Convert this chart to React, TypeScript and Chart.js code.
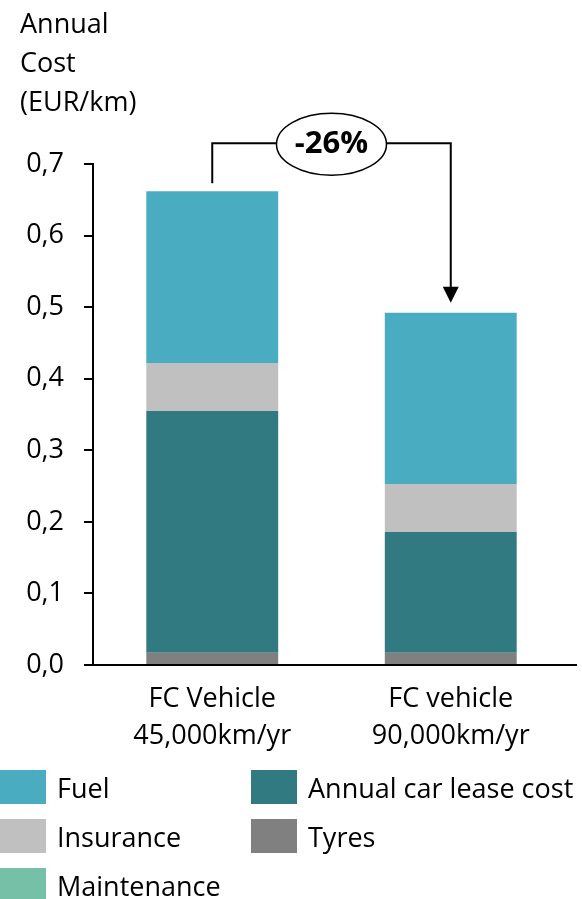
import React, { useEffect, useRef } from 'react';
import { Chart, registerables } from 'chart.js';

Chart.register(...registerables);

const categories = [
  ['FC Vehicle', '45,000km/yr'],
  ['FC vehicle', '90,000km/yr'],
];
const tyres = [0.017, 0.017];
const lease = [0.338, 0.169];
const maintenance = [0, 0];
const insurance = [0.067, 0.067];
const fuel = [0.24, 0.239];
const yMax = 0.7;
const yStep = 0.1;
const changeLabel = '-26%';
const axisTitle = ['Annual', 'Cost', '(EUR/km)'];

const COLORS = {
  fuel: '#4AACC1',
  lease: '#327A82',
  insurance: '#C0C0C0',
  tyres: '#808080',
  maintenance: '#76C0A8',
};

const legendItems = [
  { label: 'Fuel', color: COLORS.fuel },
  { label: 'Annual car lease cost', color: COLORS.lease },
  { label: 'Insurance', color: COLORS.insurance },
  { label: 'Tyres', color: COLORS.tyres },
  { label: 'Maintenance', color: COLORS.maintenance },
];

const FONT = "'Open Sans', sans-serif";

const extrasPlugin = {
  id: 'extras',
  afterDraw(chart: any) {
    const ctx = chart.ctx as CanvasRenderingContext2D;
    const xs = chart.scales.x;
    const ys = chart.scales.y;
    const area = chart.chartArea;
    ctx.save();
    // extend x axis line a little to the right
    ctx.strokeStyle = '#000';
    ctx.lineWidth = 2;
    ctx.beginPath();
    ctx.moveTo(area.right - 1, area.bottom);
    ctx.lineTo(577, area.bottom);
    ctx.stroke();

    // axis title
    ctx.fillStyle = '#000';
    ctx.font = `27px ${FONT}`;
    ctx.textAlign = 'left';
    ctx.textBaseline = 'alphabetic';
    axisTitle.forEach((t, i) => ctx.fillText(t, 20, 33 + i * 39));

    // annotation bracket
    const totals = [0, 1].map(
      (i) => tyres[i] + lease[i] + maintenance[i] + insurance[i] + fuel[i]
    );
    const x1 = xs.getPixelForValue(0);
    const x2 = xs.getPixelForValue(1);
    const yTop = ys.getPixelForValue(0.729);
    const y1 = ys.getPixelForValue(totals[0]) - 8;
    const y2 = ys.getPixelForValue(totals[1]) - 10;
    ctx.strokeStyle = '#000';
    ctx.lineWidth = 2;
    ctx.beginPath();
    ctx.moveTo(x1, y1);
    ctx.lineTo(x1, yTop);
    ctx.lineTo(x2, yTop);
    ctx.lineTo(x2, y2 - 14);
    ctx.stroke();
    ctx.fillStyle = '#000';
    ctx.beginPath();
    ctx.moveTo(x2 - 8, y2 - 16);
    ctx.lineTo(x2 + 8, y2 - 16);
    ctx.lineTo(x2, y2);
    ctx.closePath();
    ctx.fill();
    const cx = (x1 + x2) / 2;
    ctx.beginPath();
    ctx.ellipse(cx, yTop + 1, 55, 31, 0, 0, Math.PI * 2);
    ctx.fillStyle = '#fff';
    ctx.fill();
    ctx.lineWidth = 1.5;
    ctx.stroke();
    ctx.fillStyle = '#000';
    ctx.font = `bold 31px ${FONT}`;
    ctx.textAlign = 'center';
    ctx.textBaseline = 'middle';
    ctx.fillText(changeLabel, cx, yTop + 1);

    // legend
    ctx.font = `27px ${FONT}`;
    ctx.textAlign = 'left';
    ctx.textBaseline = 'alphabetic';
    legendItems.forEach((item, i) => {
      const col = i % 2;
      const row = Math.floor(i / 2);
      const sx = col === 0 ? 0 : 251;
      const sy = 770 + row * 49;
      ctx.fillStyle = item.color;
      ctx.fillRect(sx, sy, 46, 34);
      ctx.fillStyle = '#000';
      ctx.fillText(item.label, sx + 57, sy + 28);
    });
    ctx.restore();
  },
};

export default function App() {
  const ref = useRef<HTMLCanvasElement | null>(null);
  useEffect(() => {
    document.body.style.margin = '0';
    document.body.style.overflow = 'hidden';
    const canvas = ref.current;
    if (!canvas) return;
    const chart = new Chart(canvas, {
      type: 'bar',
      data: {
        labels: categories as any,
        datasets: [
          { label: 'Tyres', data: tyres, backgroundColor: COLORS.tyres },
          { label: 'Annual car lease cost', data: lease, backgroundColor: COLORS.lease },
          { label: 'Maintenance', data: maintenance, backgroundColor: COLORS.maintenance },
          { label: 'Insurance', data: insurance, backgroundColor: COLORS.insurance },
          { label: 'Fuel', data: fuel, backgroundColor: COLORS.fuel },
        ],
      },
      options: {
        responsive: false,
        animation: false,
        devicePixelRatio: 1,
        layout: { padding: { top: 164, right: 12, bottom: 0, left: 0 } },
        datasets: { bar: { barPercentage: 0.553, categoryPercentage: 1 } },
        plugins: { legend: { display: false }, tooltip: { enabled: false } },
        scales: {
          x: {
            stacked: true,
            grid: { display: true, drawOnChartArea: false, drawTicks: false },
            border: { display: true, color: '#000', width: 2 },
            ticks: {
              color: '#000',
              font: { family: FONT, size: 27, lineHeight: 1.4 },
              padding: 15,
              maxRotation: 0,
            },
            afterFit: (s: any) => {
              s.height = 899 - 665;
            },
          },
          y: {
            stacked: true,
            min: 0,
            max: yMax,
            grid: {
              drawOnChartArea: false,
              drawTicks: true,
              tickLength: 9,
              color: '#000',
              lineWidth: 2,
            },
            border: { display: true, color: '#000', width: 2 },
            ticks: {
              stepSize: yStep,
              color: '#000',
              padding: 20,
              font: { family: FONT, size: 27 },
              callback: (v: any) => Number(v).toFixed(1).replace('.', ','),
            },
            afterFit: (s: any) => {
              s.width = 93;
            },
          },
        },
      },
      plugins: [extrasPlugin],
    });
    return () => chart.destroy();
  }, []);
  return (
    <div style={{ width: 582, height: 899 }}>
      <canvas ref={ref} width={582} height={899} style={{ display: 'block', width: 582, height: 899 }} />
    </div>
  );
}
